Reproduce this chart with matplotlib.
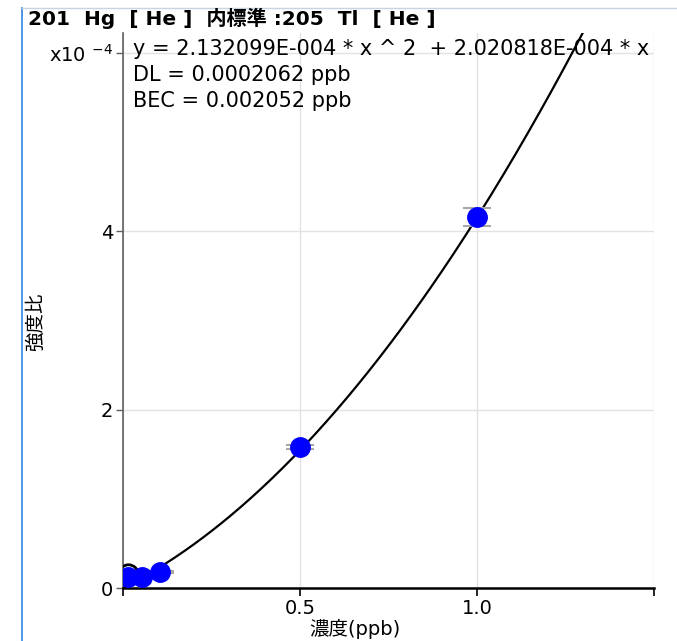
import numpy as np
import matplotlib.pyplot as plt
from matplotlib.lines import Line2D

plt.rcParams['font.family'] = ['DejaVu Sans', 'Noto Sans CJK JP']

# 検量線データ (強度比 x10^-4)
conc = [0.015, 0.055, 0.105, 0.5, 1.0]
ratio = [0.12, 0.12, 0.18, 1.58, 4.16]
ratio_sd = [0.01, 0.01, 0.01, 0.02, 0.10]
blank_conc = [0.015]
blank_ratio = [0.16]

# 回帰式の係数 (x10^-4 単位)
coef_a = 2.132099
coef_b = 2.020818

title = "201  Hg  [ He ]  内標準 :205  Tl  [ He ]"
eq_lines = ["y = 2.132099E-004 * x ^ 2  + 2.020818E-004 * x",
            "DL = 0.0002062 ppb",
            "BEC = 0.002052 ppb"]

fig = plt.figure(figsize=(6.77, 6.41), dpi=100)
ax = fig.add_axes([123 / 677, 53 / 641, 531 / 677, 555 / 641])

xs = np.linspace(0, 1.5, 300)
ax.plot(xs, coef_a * xs ** 2 + coef_b * xs, color='black', lw=1.6, zorder=3)

ax.plot(blank_conc, blank_ratio, 'o', ms=14, mfc='none', mec='black', mew=2, zorder=3.5)
ax.errorbar(conc, ratio, yerr=ratio_sd, fmt='o', ms=14, color='#0000ff',
            ecolor='#a8a8a8', elinewidth=1.5, capsize=10, capthick=1.5, zorder=4)

ax.set_xlim(0, 1.5)
ax.set_ylim(0, 6.22)
ax.set_xticks([0, 0.5, 1.0, 1.5])
ax.set_xticklabels(['', '0.5', '1.0', ''])
ax.set_yticks([0, 2, 4, 6])
ax.set_yticklabels(['0', '2', '4', r'x10 $^{-4}$'])
ax.tick_params(axis='x', length=6, width=1.2, color='black', labelsize=14, pad=2)
ax.tick_params(axis='y', length=5, width=1, color='#606060', labelsize=14, pad=2)
ax.grid(True, color='#e2e2e2', lw=1)
ax.set_axisbelow(True)

for s in ['top', 'right']:
    ax.spines[s].set_visible(False)
ax.spines['bottom'].set_linewidth(1.8)
ax.spines['left'].set_color('#606060')
ax.spines['left'].set_linewidth(1.2)

for i, line in enumerate(eq_lines):
    fig.text(133 / 677, 1 - (49 + 26 * i) / 641, line, fontsize=15, va='center', ha='left')

fig.text(28 / 677, 1 - 18 / 641, title, fontsize=14.5, fontweight='bold', va='center', ha='left')
fig.text(355 / 677, 1 - 629 / 641, "濃度(ppb)", fontsize=14, va='center', ha='center')
fig.text(35 / 677, 1 - 322 / 641, "強度比", fontsize=14, va='center', ha='center', rotation=90)

fig.add_artist(Line2D([22 / 677, 22 / 677], [0, 1 - 8 / 641], color='#2b86e0', lw=1.2))
fig.add_artist(Line2D([22 / 677, 1], [1 - 8 / 641, 1 - 8 / 641], color='#c5d5e5', lw=1))

fig.savefig('out.png', dpi=100)
